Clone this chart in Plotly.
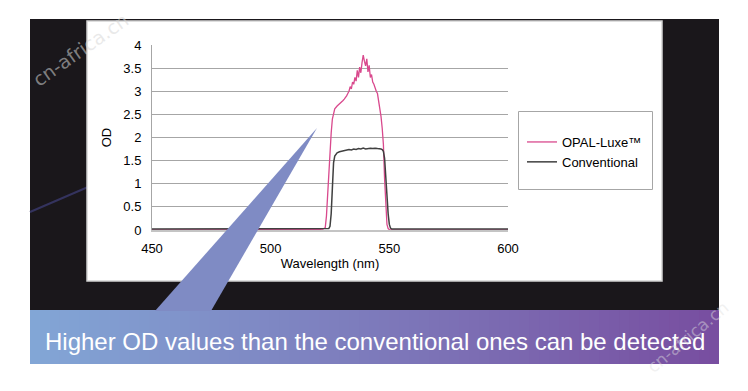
import plotly.graph_objects as go

# ---------------- data ----------------
wl_opal = [450, 480, 500, 515, 520, 522, 523, 523.5, 524, 524.5, 525, 525.5, 526, 526.5,
           527, 528, 529, 530, 530.5, 531, 531.5, 532, 532.5, 533, 533.5, 534, 534.5,
           535, 535.5, 536, 536.5, 537, 537.5, 538, 538.5, 539, 539.5, 540, 540.5,
           541, 541.5, 542, 542.5, 543, 543.5, 544, 544.5, 545, 545.5, 546, 546.5,
           547, 547.5, 548, 548.5, 549, 549.5, 550, 552, 560, 580, 600]
od_opal = [0.0, 0.0, 0.01, 0.01, 0.01, 0.02, 0.05, 0.3, 0.8, 1.3, 1.75, 2.1, 2.4, 2.55,
           2.62, 2.68, 2.72, 2.76, 2.8, 2.83, 2.86, 2.9, 2.95, 3.0, 3.1, 3.05, 3.2,
           3.15, 3.3, 3.22, 3.45, 3.3, 3.52, 3.4, 3.62, 3.78, 3.65, 3.55, 3.7,
           3.42, 3.56, 3.3, 3.36, 3.2, 3.15, 3.05, 3.0, 2.95, 2.8, 2.68, 2.45,
           2.2, 1.85, 1.1, 0.5, 0.12, 0.03, 0.01, 0.0, 0.0, 0.0, 0.0]

wl_conv = [450, 480, 500, 515, 522, 524, 524.5, 525, 525.5, 526, 526.5, 527, 527.5,
           528, 529, 530, 531, 532, 533, 534, 535, 536, 537, 538, 539, 540, 541,
           542, 543, 544, 545, 546, 546.5, 547, 547.5, 548, 548.5, 549, 549.5,
           550, 550.5, 551, 560, 580, 600]
od_conv = [0.02, 0.02, 0.02, 0.02, 0.02, 0.02, 0.03, 0.08, 0.35, 0.9, 1.45, 1.6, 1.65,
           1.67, 1.69, 1.7, 1.71, 1.72, 1.74, 1.73, 1.75, 1.74, 1.76, 1.75, 1.77, 1.75, 1.76,
           1.77, 1.76, 1.77, 1.76, 1.76, 1.75, 1.74, 1.7, 1.55, 1.1, 0.7, 0.35,
           0.12, 0.04, 0.02, 0.02, 0.02, 0.02]

series_names = ["OPAL-Luxe™", "Conventional"]
y_ticks = [0, 0.5, 1, 1.5, 2, 2.5, 3, 3.5, 4]
y_ticklabels = ["0", "0.5", "1", "1.5", "2", "2.5", "3", "3.5", "4"]
x_ticks = [450, 500, 550, 600]
x_title = "Wavelength (nm)"
y_title = "OD"
caption = "Higher OD values than the conventional ones can be detected"
watermark = "cn-africa.cn"

# ---------------- layout helpers ----------------
# the page body has an 8px margin, so the figure sits at (8, 8)
OFF = 8
W, H = 748 - 2 * OFF, 391 - 2 * OFF


def px(x):
    return (x - OFF) / W


def py(y):
    return 1 - (y - OFF) / H


FONT = "Liberation Sans, Arial, sans-serif"

fig = go.Figure()
fig.add_trace(go.Scatter(x=wl_opal, y=od_opal, mode="lines", name=series_names[0],
                         line=dict(color="#d9498d", width=1.3)))
fig.add_trace(go.Scatter(x=wl_conv, y=od_conv, mode="lines", name=series_names[1],
                         line=dict(color="#404040", width=1.5)))

shapes = []
# dark slide background
shapes.append(dict(type="rect", xref="paper", yref="paper", layer="below",
                   x0=px(30), x1=px(719), y0=py(310), y1=py(19),
                   fillcolor="#1a171b", line=dict(width=0)))
# faint diagonal line on dark background
shapes.append(dict(type="line", xref="paper", yref="paper", layer="below",
                   x0=px(30), y0=py(212), x1=px(88), y1=py(187),
                   line=dict(color="#34335e", width=2)))
# white chart panel
shapes.append(dict(type="rect", xref="paper", yref="paper", layer="below",
                   x0=px(87), x1=px(662), y0=py(281), y1=py(21),
                   fillcolor="#ffffff", line=dict(color="#d4d4d4", width=1.5)))
# legend box
shapes.append(dict(type="rect", xref="paper", yref="paper", layer="below",
                   x0=px(518.5), x1=px(652.5), y0=py(189.5), y1=py(111.5),
                   fillcolor="rgba(0,0,0,0)", line=dict(color="#a6a6a6", width=1)))

# gradient caption bar (drawn as thin overlapping strips)
c0 = (130, 166, 214)
c1 = (120, 78, 160)
bx0, bx1 = 30, 719
n = 69
for i in range(n):
    t = i / (n - 1)
    col = tuple(int(round(c0[k] + (c1[k] - c0[k]) * t)) for k in range(3))
    xa = bx0 + (bx1 - bx0) * i / n
    xb = bx0 + (bx1 - bx0) * (i + 1) / n + 2
    shapes.append(dict(type="rect", xref="paper", yref="paper", layer="below",
                       x0=px(xa), x1=px(min(xb, bx1)), y0=py(364), y1=py(310),
                       fillcolor="rgb(%d,%d,%d)" % col, line=dict(width=0)))

# callout triangle
tri = [(317, 128), (211, 311), (155, 311)]
path = "M " + " L ".join("%f,%f" % (px(a), py(b)) for a, b in tri) + " Z"
shapes.append(dict(type="path", xref="paper", yref="paper", layer="above", path=path,
                   fillcolor="#7f8bc4", line=dict(width=0)))

annotations = [
    dict(text=caption, xref="paper", yref="paper", x=px(375), y=py(341),
         showarrow=False, xanchor="center", yanchor="middle",
         font=dict(family="Liberation Sans, Arial, sans-serif", size=24, color="#ffffff")),
    dict(text=watermark, xref="paper", yref="paper", x=px(80), y=py(50),
         showarrow=False, textangle=-35, xanchor="center", yanchor="middle",
         font=dict(family="DejaVu Sans, sans-serif", size=19, color="rgba(215,215,215,0.55)")),
    dict(text=watermark, xref="paper", yref="paper", x=px(688), y=py(337),
         showarrow=False, textangle=-40, xanchor="center", yanchor="middle",
         font=dict(family="DejaVu Sans, sans-serif", size=17, color="rgba(225,225,225,0.45)")),
]

fig.update_layout(
    width=W, height=H, autosize=False,
    margin=dict(l=0, r=0, t=0, b=0, pad=0),
    paper_bgcolor="#ffffff", plot_bgcolor="rgba(0,0,0,0)",
    font=dict(family=FONT, size=13, color="#000000"),
    shapes=shapes, annotations=annotations,
    showlegend=True,
    legend=dict(x=px(522), y=py(127), xanchor="left", yanchor="top",
                bgcolor="rgba(0,0,0,0)", borderwidth=0,
                font=dict(family=FONT, size=13, color="#000000"),
                tracegroupgap=0, itemwidth=30),
    xaxis=dict(domain=[px(152), px(508)], range=[450, 600], tickvals=x_ticks,
               showgrid=False, zeroline=False, showline=True, linecolor="#c4c4c4",
               linewidth=2, ticks="", ticklabelstandoff=5, automargin=False,
               title=dict(text=x_title, standoff=4, font=dict(size=13)),
               fixedrange=True),
    yaxis=dict(domain=[py(230), py(45)], range=[0, 4], tickvals=y_ticks,
               ticktext=y_ticklabels, showgrid=True, gridcolor="#a6a6a6", gridwidth=1,
               zeroline=False, showline=True, linecolor="#a6a6a6", linewidth=1,
               ticks="", ticklabelstandoff=7, automargin=False,
               title=dict(text=y_title, standoff=8, font=dict(size=13)),
               fixedrange=True),
)

fig.write_html("out.html")
